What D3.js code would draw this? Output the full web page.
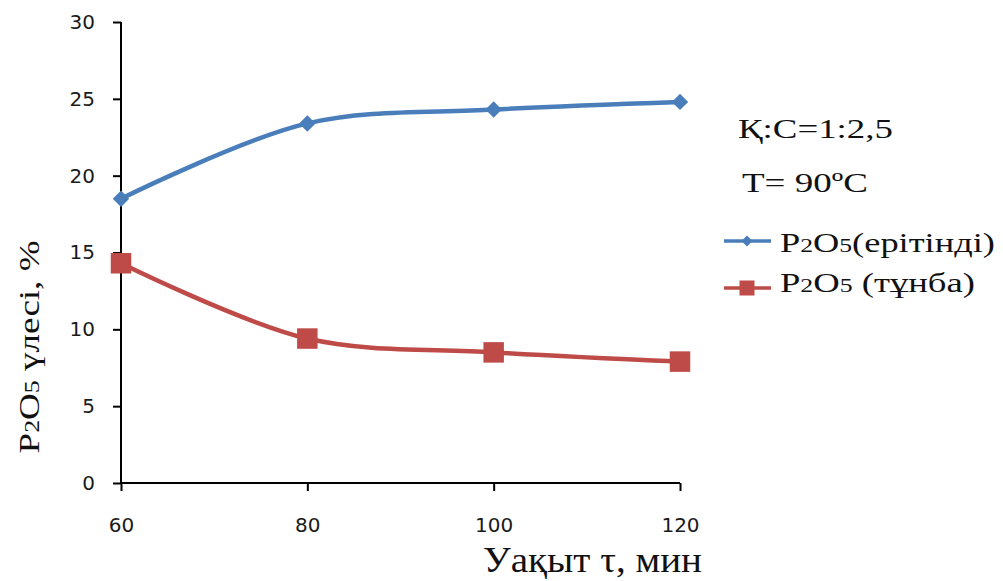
<!DOCTYPE html>
<html>
<head>
<meta charset="utf-8">
<script src="https://cdn.jsdelivr.net/npm/d3@7"></script>
<style>
  html, body { margin: 0; padding: 0; background: #fff; }
  svg { display: block; }
</style>
</head>
<body>
<svg id="chart" width="1003" height="581"></svg>
<script>
// Time, minutes
const times = [60, 80, 100, 120];
// P2O5 share in the solution, %
const solution = [18.5, 23.4, 24.3, 24.8];
// P2O5 share in the precipitate, %
const precipitate = [14.3, 9.4, 8.5, 7.9];
const yTicks = [0, 5, 10, 15, 20, 25, 30];
const xTicks = [60, 80, 100, 120];

const blue = "#4a7ebb";
const red = "#be4b48";
const ink = "#111";

const svg = d3.select("#chart");
const x = d3.scaleLinear().domain([60, 120]).range([121, 680]);
const y = d3.scaleLinear().domain([0, 30]).range([483, 22]);

const tickFont = "'DejaVu Sans', Verdana, sans-serif";
const serif = "'Liberation Serif', 'DejaVu Serif', 'Times New Roman', serif";

// Axes
const yAxis = svg.append("g").attr("transform", `translate(${x(60)},0)`)
  .call(d3.axisLeft(y).tickValues(yTicks).tickSize(8).tickPadding(18).tickFormat(d3.format("d")));
const xAxis = svg.append("g").attr("transform", `translate(0,${y(0)})`)
  .call(d3.axisBottom(x).tickValues(xTicks).tickSize(8).tickPadding(27).tickFormat(d3.format("d")));
[yAxis, xAxis].forEach(g => {
  g.select(".domain").attr("stroke", "#000").attr("stroke-width", 2);
  g.selectAll(".tick line").attr("stroke", "#000").attr("stroke-width", 2);
  g.selectAll(".tick text").attr("fill", "#1a1a1a").style("font-family", tickFont).style("font-size", "20px");
});
yAxis.select(".domain").attr("d", `M0,${y(30)}V${y(0)}`);
xAxis.select(".domain").attr("d", `M${x(60)},0H${x(120)}`);

// Smoothed series lines
const line = d3.line().x((d, i) => x(times[i])).y(d => y(d)).curve(d3.curveCatmullRom.alpha(0.5));

svg.append("path").datum(solution).attr("d", line)
  .attr("fill", "none").attr("stroke", blue).attr("stroke-width", 4.5).attr("stroke-linejoin", "round");
svg.append("path").datum(precipitate).attr("d", line)
  .attr("fill", "none").attr("stroke", red).attr("stroke-width", 4.5).attr("stroke-linejoin", "round");

// Markers: diamonds for the solution, squares for the precipitate
svg.selectAll(".mk-sol").data(solution).enter().append("path")
  .attr("d", d3.symbol().type(d3.symbolSquare).size(135))
  .attr("transform", (d, i) => `translate(${x(times[i])},${y(d)}) rotate(45)`)
  .attr("fill", blue);
svg.selectAll(".mk-pre").data(precipitate).enter().append("path")
  .attr("d", d3.symbol().type(d3.symbolSquare).size(420))
  .attr("transform", (d, i) => `translate(${x(times[i])},${y(d)})`)
  .attr("fill", red);

// "P2O5" with subscript digits
function p2o5(sel, size) {
  const sub = Math.round(size * 0.7);
  sel.append("tspan").text("P");
  sel.append("tspan").attr("font-size", sub).text("2");
  sel.append("tspan").text("O");
  sel.append("tspan").attr("font-size", sub).text("5");
}

// Serif label placed in a group, stretched horizontally to a set width
function label(tx, ty, size, width, build, anchor = "start", rotate = 0) {
  const g = svg.append("g");
  const t = g.append("text").attr("x", 0).attr("y", 0).attr("text-anchor", anchor)
    .style("font-family", serif).style("font-size", size + "px").attr("fill", ink);
  build(t, size);
  const w = t.node().getComputedTextLength();
  const sx = width / w;
  g.attr("transform", `translate(${tx},${ty}) rotate(${rotate}) scale(${sx},1)`);
  return g;
}

// Axis titles
label(39, 347, 30, 213, (t, s) => { p2o5(t, s); t.append("tspan").text(" үлесі, %"); }, "middle", -90);
label(702, 572, 35, 219, t => t.text("Уақыт τ, мин"), "end");

// Condition notes
label(738, 138, 28, 155, t => t.text("Қ:С=1:2,5"));
label(742, 192, 28, 126, t => t.text("T= 90ºC"));

// Legend
const legend = [
  { label: "(ерітінді)", gap: "", color: blue, type: "diamond", ly: 241, ty: 252, w: 215 },
  { label: "(тұнба)", gap: " ", color: red, type: "square", ly: 288, ty: 292, w: 195 }
];
legend.forEach(l => {
  svg.append("line").attr("x1", 724).attr("x2", 771).attr("y1", l.ly).attr("y2", l.ly)
    .attr("stroke", l.color).attr("stroke-width", 3.5);
  if (l.type === "diamond") {
    svg.append("path").attr("d", d3.symbol().type(d3.symbolSquare).size(60))
      .attr("transform", `translate(747,${l.ly}) rotate(45)`).attr("fill", l.color);
  } else {
    svg.append("path").attr("d", d3.symbol().type(d3.symbolSquare).size(225))
      .attr("transform", `translate(747,${l.ly})`).attr("fill", l.color);
  }
  label(780, l.ty, 27, l.w, (t, s) => { p2o5(t, s); t.append("tspan").text(l.gap + l.label); });
});
</script>
</body>
</html>
